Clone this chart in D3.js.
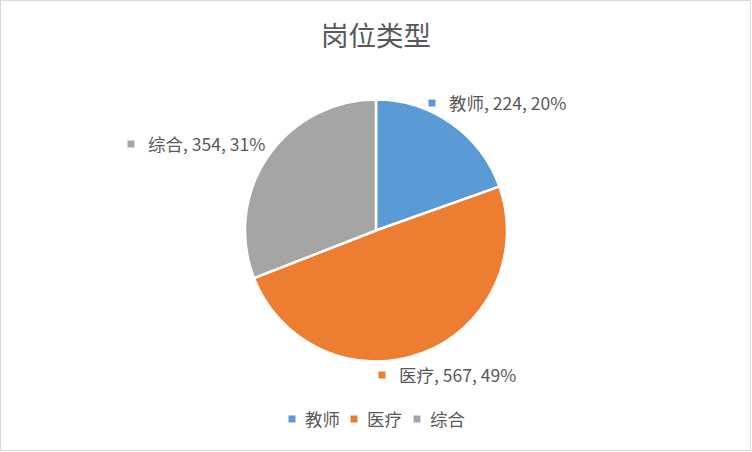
<!DOCTYPE html>
<html><head><meta charset="utf-8">
<script src="https://cdn.jsdelivr.net/npm/d3@7"></script>
<style>body{margin:0;background:#fff}svg{display:block}text{font-family:"Noto Sans CJK SC","Noto Sans",sans-serif;fill:#595959}</style>
</head><body>
<script>
const categories = ["教师", "医疗", "综合"];
const values = [224, 567, 354];
const percents = ["20%", "49%", "31%"];
const colors = ["#5b9bd5", "#ed7d31", "#a5a5a5"];
const title = "岗位类型";

const W = 752, H = 452;
const svg = d3.select("body").append("svg").attr("width", W).attr("height", H);
svg.append("rect").attr("x", 0.5).attr("y", 0.5).attr("width", W - 2).attr("height", H - 2)
  .attr("fill", "#fff").attr("stroke", "#d9d9d9");

svg.append("text").attr("x", 376).attr("y", 46).attr("text-anchor", "middle")
  .attr("font-size", 27.5).text(title);

const cx = 376, cy = 230.5, r = 131;
const pie = d3.pie().sort(null).value(d => d)(values);
const arc = d3.arc().innerRadius(0).outerRadius(r);
const g = svg.append("g").attr("transform", `translate(${cx},${cy})`);
g.selectAll("path").data(pie).join("path")
  .attr("d", arc).attr("fill", (d, i) => colors[i])
  .attr("stroke", "#fff").attr("stroke-width", 2.5).attr("stroke-linejoin", "round");

// data labels (marker + text), placed outside slices
const labelPos = [[432, 103], [382, 375], [131, 144]];
categories.forEach((c, i) => {
  const [mx, my] = labelPos[i];
  svg.append("rect").attr("x", mx - 3.5).attr("y", my - 3.5).attr("width", 7).attr("height", 7).attr("fill", colors[i]);
  svg.append("text").attr("x", mx + 17).attr("y", my + 6.5).attr("font-size", 17.5)
    .text(`${c}, ${values[i]}, ${percents[i]}`);
});

// legend
const legX = [292, 354, 417];
categories.forEach((c, i) => {
  svg.append("rect").attr("x", legX[i] - 3.5).attr("y", 419 - 3.5).attr("width", 7).attr("height", 7).attr("fill", colors[i]);
  svg.append("text").attr("x", legX[i] + 13).attr("y", 425.5).attr("font-size", 17.5).text(c);
});
</script>
</body></html>
